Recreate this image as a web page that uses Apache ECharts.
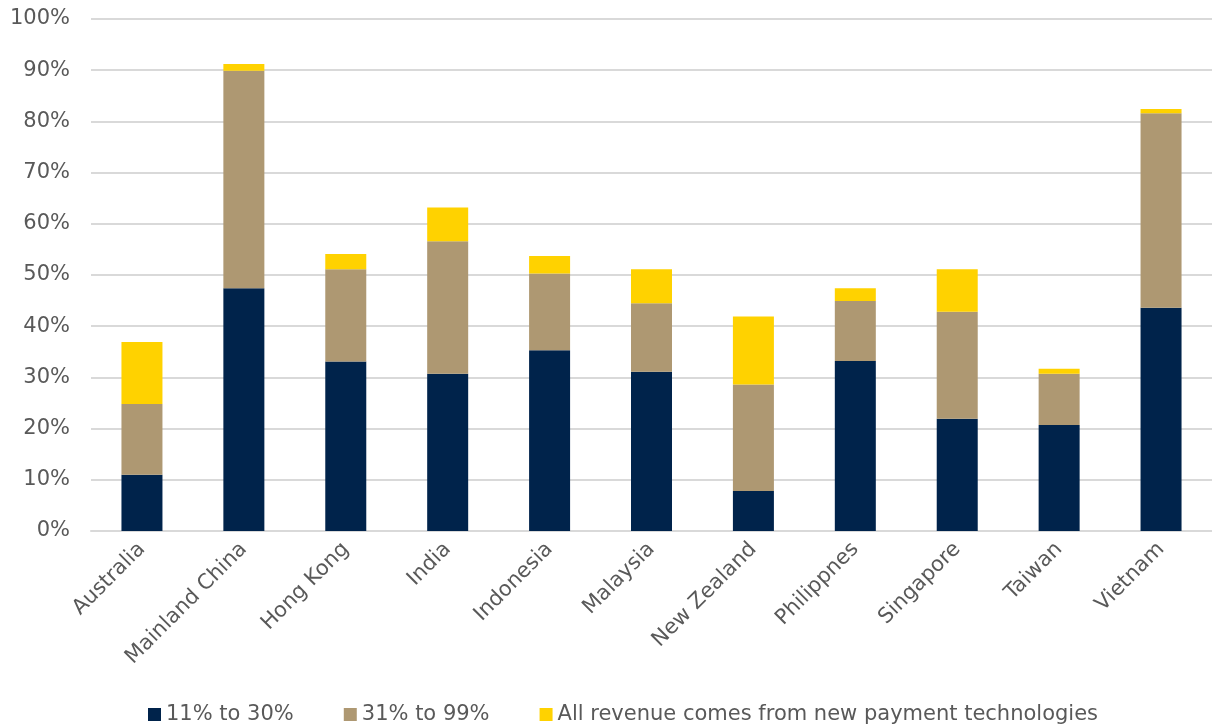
<!DOCTYPE html>
<html>
<head>
<meta charset="utf-8">
<script src="https://cdn.jsdelivr.net/npm/echarts@6/dist/echarts.min.js"></script>
<style>
  html, body { margin: 0; padding: 0; background: #fff; }
  #chart { width: 1212px; height: 726px; }
</style>
</head>
<body>
<div id="chart"></div>
<script>
// categories and series values (% of businesses)
const countries = ["Australia", "Mainland China", "Hong Kong", "India", "Indonesia", "Malaysia",
  "New Zealand", "Philippnes", "Singapore", "Taiwan", "Vietnam"];
const low = [11.0, 47.4, 33.1, 30.7, 35.3, 31.1, 7.8, 33.2, 21.9, 20.7, 43.6];
const mid = [13.8, 42.5, 18.0, 25.9, 15.0, 13.4, 20.8, 11.7, 20.9, 10.0, 38.0];
const all = [12.1, 1.3, 3.0, 6.6, 3.4, 6.6, 13.3, 2.5, 8.3, 1.0, 0.8];
const seriesNames = ["11% to 30%", "31% to 99%", "All revenue comes from new payment technologies"];
const colors = ["#00234B", "#AE9872", "#FFD200"];

const font = "DejaVu Sans, sans-serif";
const myChart = echarts.init(document.getElementById("chart"));

myChart.setOption({
  animation: false,
  color: colors,
  textStyle: { fontFamily: font },
  grid: { left: 91, right: 0, top: 19, bottom: 195, containLabel: false },
  legend: {
    top: 699,
    left: 143,
    itemWidth: 13,
    itemHeight: 13,
    itemGap: 50,
    icon: "rect",
    textStyle: { fontSize: 21, color: "#595959", fontFamily: font },
    data: seriesNames
  },
  xAxis: {
    type: "category",
    data: countries,
    axisLine: { lineStyle: { color: "#d9d9d9", width: 2 } },
    axisTick: { show: false },
    axisLabel: { rotate: 45, fontSize: 21, color: "#595959", margin: 15, interval: 0 }
  },
  yAxis: {
    type: "value",
    min: 0,
    max: 100,
    interval: 10,
    axisLine: { show: false },
    axisTick: { show: false },
    axisLabel: { formatter: "{value}%", fontSize: 21, color: "#595959", margin: 21 },
    splitLine: { lineStyle: { color: "#d9d9d9", width: 2 } }
  },
  series: [
    { name: seriesNames[0], type: "bar", stack: "t", barWidth: 41, data: low },
    { name: seriesNames[1], type: "bar", stack: "t", barWidth: 41, data: mid },
    { name: seriesNames[2], type: "bar", stack: "t", barWidth: 41, data: all }
  ]
});
window.addEventListener("resize", function () {
  myChart.resize();
});
</script>
</body>
</html>
